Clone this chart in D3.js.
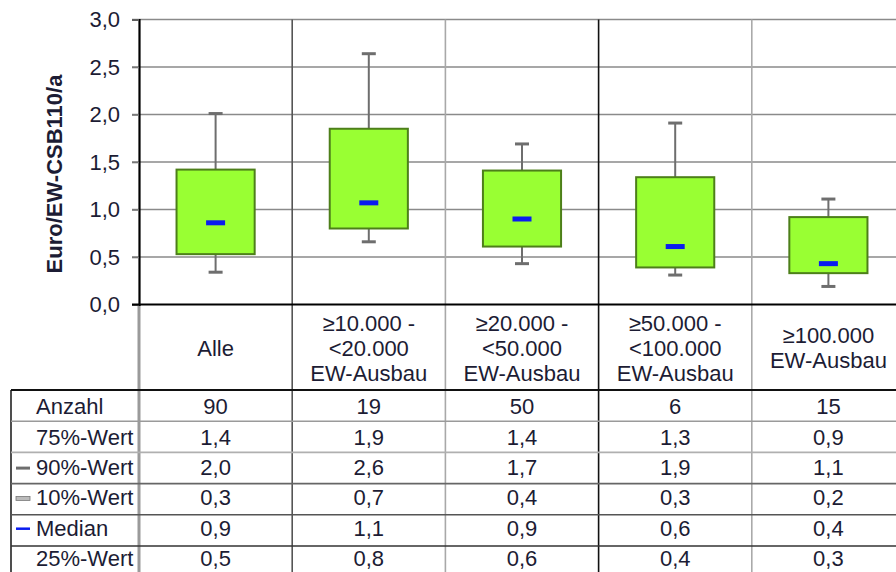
<!DOCTYPE html>
<html><head><meta charset="utf-8">
<script src="https://cdn.jsdelivr.net/npm/d3@7"></script>
<style>
html,body{margin:0;padding:0;background:#fff;overflow:hidden}
text{font-family:"Liberation Sans",Arial,sans-serif;fill:#1c1c34}
</style></head>
<body><svg id="c" width="896" height="572"></svg>
<script>
// ---- data ----
const categories = [
  ["Alle"],
  ["≥10.000 -", "<20.000", "EW-Ausbau"],
  ["≥20.000 -", "<50.000", "EW-Ausbau"],
  ["≥50.000 -", "<100.000", "EW-Ausbau"],
  ["≥100.000", "EW-Ausbau"]
];
const anzahl   = [90, 19, 50, 6, 15];
const p90      = [2.01, 2.64, 1.69, 1.91, 1.11];
const p75      = [1.42, 1.85, 1.41, 1.34, 0.92];
const median   = [0.86, 1.07, 0.90, 0.61, 0.43];
const p25      = [0.53, 0.80, 0.61, 0.39, 0.33];
const p10      = [0.34, 0.66, 0.43, 0.31, 0.19];
const yTicks   = [0, 0.5, 1.0, 1.5, 2.0, 2.5, 3.0];
const rowLabels = ["Anzahl", "75%-Wert", "90%-Wert", "10%-Wert", "Median", "25%-Wert"];
const yTitle = "Euro/EW-CSB110/a";

// ---- layout ----
const svg = d3.select("#c");
const fs = 22;
const x = d3.scaleBand().domain(d3.range(categories.length)).range([139, 905]).padding(0);
const y = d3.scaleLinear().domain([0, 3]).range([304.5, 19.5]);
const bw = x.bandwidth();
const tableTop = 390, rowH = 31.2, tableLeft = 11, textStep = 30.3, firstText = 406.5;
const fmt = v => d3.format(".1f")(v).replace(".", ",");

// horizontal gridlines
svg.append("g").selectAll("line").data(yTicks.filter(t => t > 0)).join("line")
  .attr("x1", 132).attr("x2", 896).attr("y1", d => y(d)).attr("y2", d => y(d))
  .attr("stroke", "#8a8a8a").attr("stroke-width", 1.6);

// column separators (plot + table)
const sepColors = ["#9a9a9a", "#555", "#a8a8a8", "#111", "#aaaaaa"];
svg.append("g").selectAll("line").data(d3.range(1, categories.length)).join("line")
  .attr("x1", d => x(d)).attr("x2", d => x(d)).attr("y1", y(3)).attr("y2", 572)
  .attr("stroke", d => sepColors[d]).attr("stroke-width", 1.6);
// left column line below axis
svg.append("line").attr("x1", 139).attr("x2", 139).attr("y1", y(0)).attr("y2", 572)
  .attr("stroke", "#9a9a9a").attr("stroke-width", 3);
// table left border
svg.append("line").attr("x1", tableLeft).attr("x2", tableLeft).attr("y1", tableTop).attr("y2", 572)
  .attr("stroke", "#222").attr("stroke-width", 1.6);

// table row lines
const rowColors = ["#111", "#9a9a9a", "#b0b0b0", "#666", "#555", "#333"];
svg.append("g").selectAll("line").data(d3.range(rowLabels.length)).join("line")
  .attr("x1", tableLeft).attr("x2", 896)
  .attr("y1", i => tableTop + i * rowH).attr("y2", i => tableTop + i * rowH)
  .attr("stroke", i => rowColors[i]).attr("stroke-width", i => i === 0 ? 2.2 : 1.6);

// y axis
const yAxis = d3.axisLeft(y).tickValues(yTicks).tickSize(7).tickPadding(12).tickFormat(fmt);
const ga = svg.append("g").attr("transform", "translate(139,0)").call(yAxis);
ga.select(".domain").attr("stroke", "#000").attr("stroke-width", 2.2);
ga.selectAll(".tick line").attr("stroke", "#777").attr("stroke-width", 1.6);
ga.selectAll(".tick text").attr("font-size", fs).attr("fill", "#1c1c34")
  .attr("font-family", '"Liberation Sans",Arial,sans-serif');
// x axis line
svg.append("line").attr("x1", 132).attr("x2", 896).attr("y1", y(0)).attr("y2", y(0))
  .attr("stroke", "#000").attr("stroke-width", 2.2);

// y title
svg.append("text").attr("transform", "translate(62,174) rotate(-90)")
  .attr("text-anchor", "middle").attr("font-size", fs).attr("font-weight", "bold")
  .text(yTitle);

// boxes
const boxes = svg.append("g").selectAll("g").data(d3.range(categories.length)).join("g");
const cx = i => x(i) + bw / 2;
const half = bw * 0.255;
boxes.append("line").attr("x1", cx).attr("x2", cx)
  .attr("y1", i => y(p90[i])).attr("y2", i => y(p10[i]))
  .attr("stroke", "#6e6e6e").attr("stroke-width", 2);
boxes.append("line").attr("x1", i => cx(i) - 7).attr("x2", i => cx(i) + 7)
  .attr("y1", i => y(p90[i])).attr("y2", i => y(p90[i]))
  .attr("stroke", "#6e6e6e").attr("stroke-width", 3);
boxes.append("line").attr("x1", i => cx(i) - 7).attr("x2", i => cx(i) + 7)
  .attr("y1", i => y(p10[i])).attr("y2", i => y(p10[i]))
  .attr("stroke", "#6e6e6e").attr("stroke-width", 3);
boxes.append("rect").attr("x", i => cx(i) - half).attr("width", half * 2)
  .attr("y", i => y(p75[i])).attr("height", i => y(p25[i]) - y(p75[i]))
  .attr("fill", "#99ff33").attr("stroke", "#4d7f1a").attr("stroke-width", 2);
boxes.append("rect").attr("x", i => cx(i) - 9.5).attr("width", 19)
  .attr("y", i => y(median[i]) - 2.5).attr("height", 5)
  .attr("fill", "#0a1cf0");

// category labels
const cat = svg.append("g").selectAll("text").data(d3.range(categories.length)).join("text")
  .attr("text-anchor", "middle").attr("font-size", fs)
  .attr("x", cx)
  .attr("y", i => 348 - (categories[i].length - 1) * 12.5);
cat.selectAll("tspan").data(i => categories[i]).join("tspan")
  .attr("x", function() { return d3.select(this.parentNode).attr("x"); })
  .attr("dy", (d, j) => j === 0 ? "0.36em" : 25)
  .text(d => d);

// table
const rowsData = [anzahl.map(String), p75.map(fmt), p90.map(fmt), p10.map(fmt), median.map(fmt), p25.map(fmt)];
rowLabels.forEach((lab, r) => {
  const cy = firstText + r * textStep;
  svg.append("text").attr("x", 36).attr("y", cy).attr("dy", "0.36em")
    .attr("font-size", fs).text(lab);
  rowsData[r].forEach((v, i) => {
    svg.append("text").attr("x", cx(i)).attr("y", cy).attr("dy", "0.36em")
      .attr("text-anchor", "middle").attr("font-size", fs).text(v);
  });
});
// legend keys in table
const keyY = r => firstText + r * textStep + 1;
svg.append("line").attr("x1", 16).attr("x2", 30).attr("y1", keyY(2)).attr("y2", keyY(2))
  .attr("stroke", "#6e6e6e").attr("stroke-width", 3);
svg.append("rect").attr("x", 16).attr("width", 14).attr("y", keyY(3) - 2).attr("height", 4)
  .attr("fill", "#bbb").attr("stroke", "#777").attr("stroke-width", 0.8);
svg.append("line").attr("x1", 16).attr("x2", 30).attr("y1", keyY(4)).attr("y2", keyY(4))
  .attr("stroke", "#0a1cf0").attr("stroke-width", 2.5);
</script></body></html>
